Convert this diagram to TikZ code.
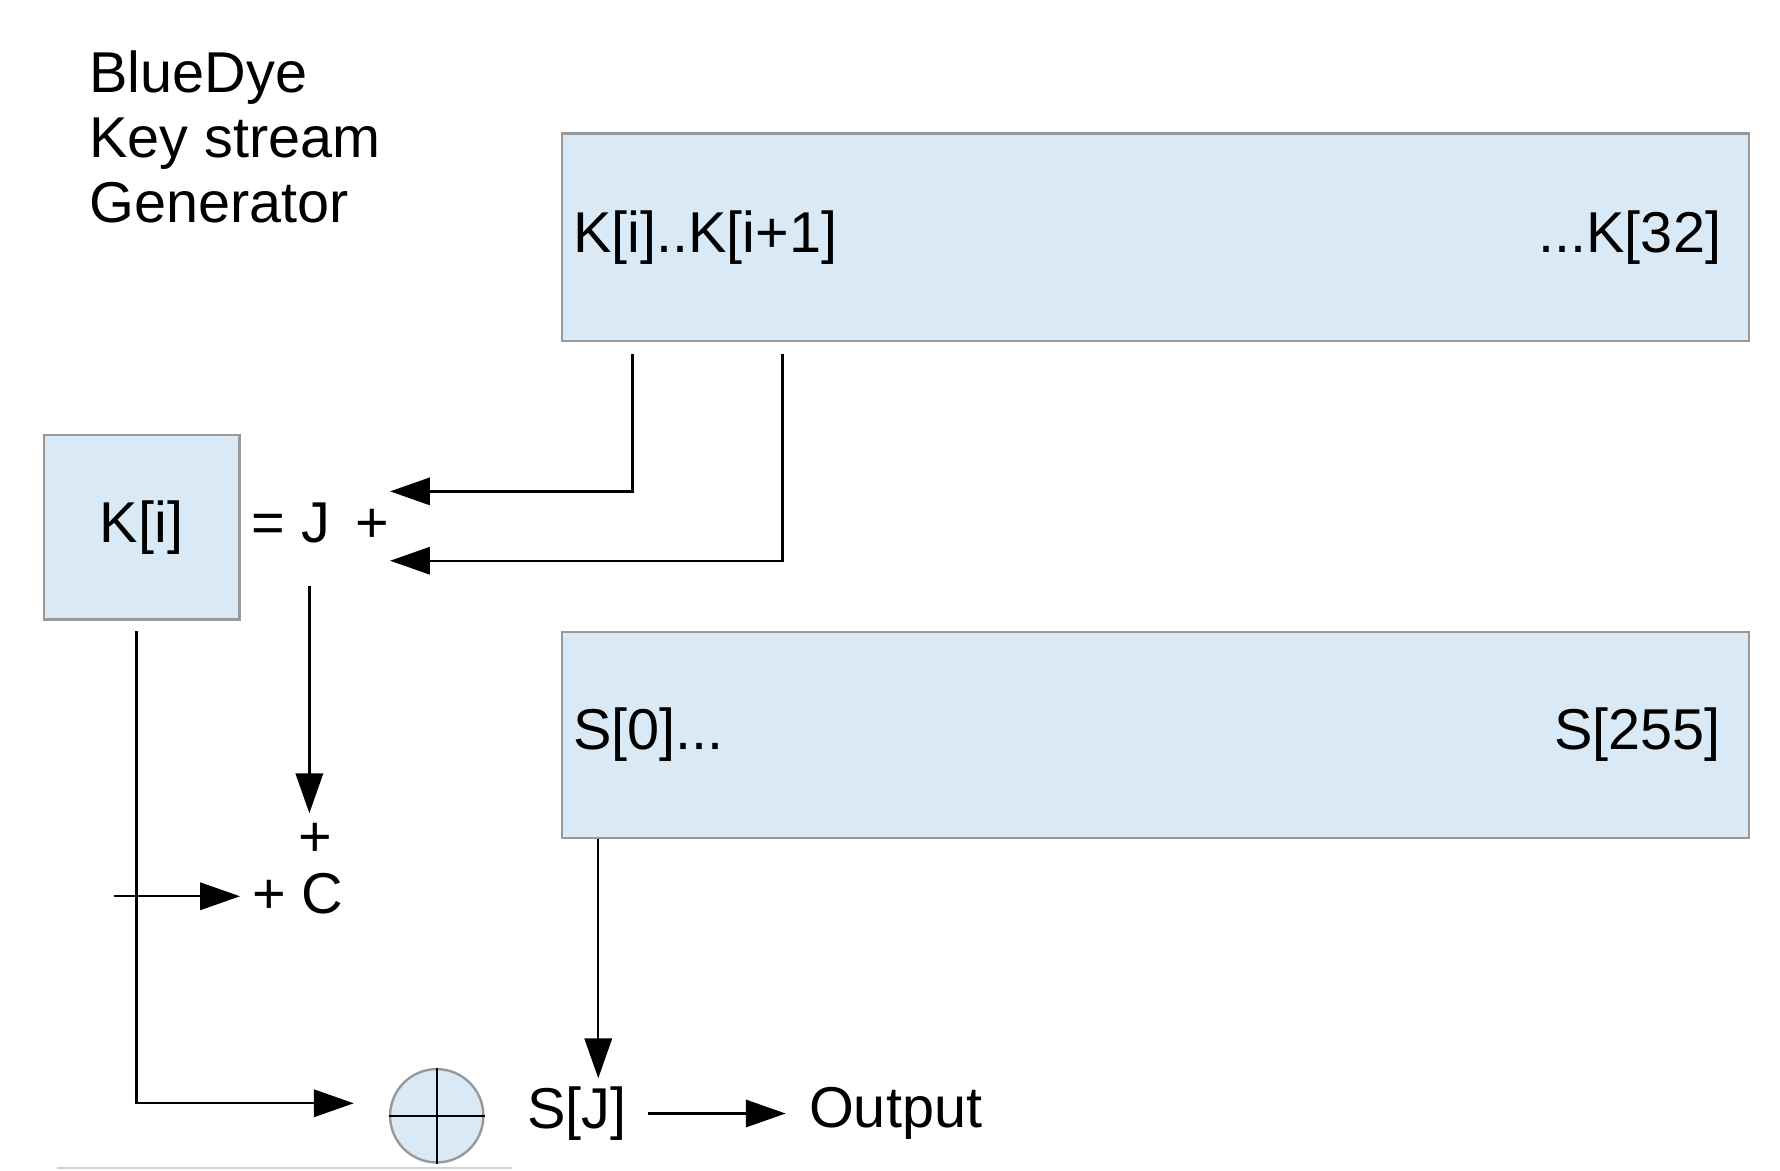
\documentclass[tikz,border=0pt]{standalone}
\usepackage{fontspec}
\setmainfont{Liberation Sans}
\usetikzlibrary{arrows.meta, positioning}
\definecolor{boxblue}{RGB}{217,234,246}
\definecolor{boxedge}{RGB}{153,153,153}

\begin{document}
\begin{tikzpicture}[x=0.01cm, y=-0.01cm,
    font=\fontsize{14.4}{16.3}\selectfont,
    reg/.style={draw=boxedge, fill=boxblue, line width=0.6pt, rectangle},
    txt/.style={inner sep=0pt},
    flow/.style={-{Triangle[length=0.35cm, width=0.24cm]}, line width=0.6pt}]
    \useasboundingbox (0,0) rectangle (1565,1029);
    % Nodes
    \node (title) [txt, anchor=north west, align=left] at (78,44) {BlueDye\\Key stream\\Generator};
    \node (keyreg) [reg, minimum width=10.43cm, minimum height=1.82cm] at (1016,208.5) {};
    \node (klow) [txt, anchor=west] at ([xshift=0.1cm]keyreg.west) {K[i]..K[i+1]};
    \node (khigh) [txt, anchor=east] at ([xshift=-0.25cm]keyreg.east) {...K[32]};
    \node (sreg) [reg, minimum width=10.43cm, minimum height=1.81cm] at (1016,646) {};
    \node (slow) [txt, anchor=west] at ([xshift=0.1cm]sreg.west) {S[0]...};
    \node (shigh) [txt, anchor=east] at ([xshift=-0.25cm]sreg.east) {S[255]};
    \node (ki) [reg, minimum width=1.72cm, minimum height=1.62cm] at (124.5,463.5) {K[i]};
    \node (eqj) [txt, right=0.09cm of ki, yshift=0.04cm] {= J \,+};
    \node (plus) [txt] at (277,738) {+};
    \node (plusc) [inner sep=0.1cm, anchor=base west] at (211,803) {+ C};
    \node (xor) [circle, draw=boxedge, fill=boxblue, line width=0.6pt, minimum size=0.82cm] at (384,981) {};
    \node (sj) [inner sep=0.18cm, anchor=west] at (445,979) {S[J]};
    \node (out) [inner sep=0.2cm, right=1.21cm of sj] {Output};

    % Free ends
    \coordinate (ka) at (556,311);
    \coordinate (kb) at (688,311);
    \coordinate (ta) at (343,432);
    \coordinate (tb) at (343,493);
    \coordinate (jtop) at (272,515);
    \coordinate (jend) at (272,715);
    \coordinate (cin) at (100,788);
    \coordinate (kidown) at (120,555);
    \coordinate (xin) at (311,970);
    \coordinate (sjin) at (526,948);

    % Connections
    \draw[flow] (ka) |- (ta);
    \draw[flow] (kb) |- (tb);
    \draw[flow] (jtop) -- (jend);
    \draw[flow] (cin) -- (cin -| plusc.west);
    \draw[flow] (kidown) |- (xin);
    \draw[line width=0.6pt] (xor.north) -- (xor.south);
    \draw[line width=0.6pt] (xor.west) -- (xor.east);
    \draw[flow] (sreg.south -| sjin) -- (sjin);
    \draw[flow] (sj) -- (out);

    \draw[gray!35, line width=0.6pt] (50,1027) -- (450,1027);
\end{tikzpicture}
\end{document}
